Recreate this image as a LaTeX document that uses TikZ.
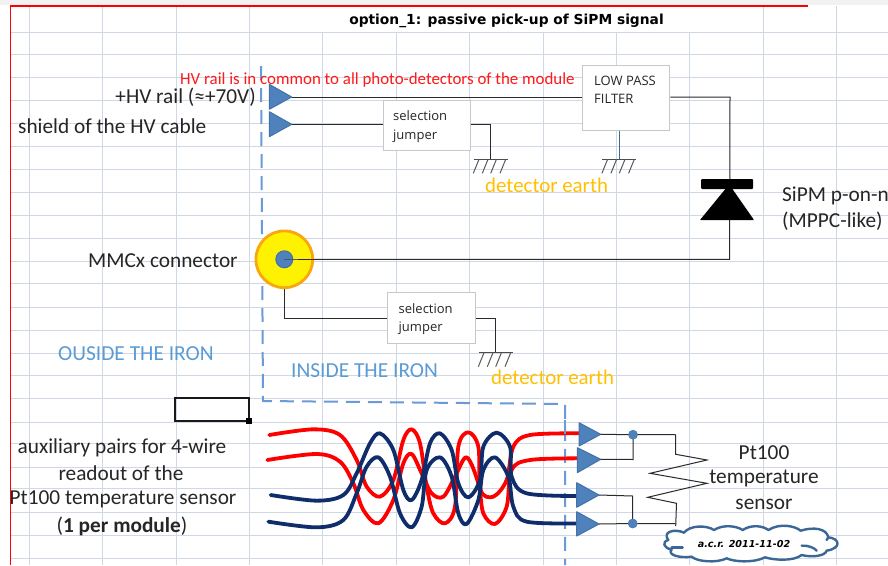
\documentclass[tikz,border=0pt]{standalone}
\usepackage{fontspec}
\setmainfont{Carlito}
\newfontfamily\uifont{Open Sans}
\newfontfamily\titlefont{DejaVu Sans}
\usetikzlibrary{calc}
\definecolor{gridc}{HTML}{D0D7E5}
\definecolor{tribl}{HTML}{4F81BD}
\definecolor{triedge}{HTML}{4272A8}
\definecolor{dashbl}{HTML}{6A9BD8}
\definecolor{labbl}{HTML}{5B9BD5}
\definecolor{gold}{HTML}{FFC000}
\definecolor{navy}{HTML}{0F2D6B}
\definecolor{redw}{HTML}{FF0000}
\definecolor{boxe}{HTML}{C8C8C8}
\definecolor{wirec}{HTML}{2A2A2A}
\definecolor{ringc}{HTML}{F9A60F}
\tikzset{
  gridline/.style={gridc,line width=1pt},
  wire/.style={wirec,line width=1pt},
  stemb/.style={tribl!80!black,line width=1.1pt},
  tri/.style={fill=tribl,draw=triedge,line width=1pt,line join=round},
  boxn/.style={draw=boxe,fill=white,line width=1pt,inner sep=0pt},
  boxt/.style={font=\uifont\fontsize{13pt}{18.3pt}\selectfont,align=left,anchor=west,inner sep=0pt,text=black!85},
  big/.style={font=\fontsize{21.3pt}{24pt}\selectfont,text=black!85,inner sep=0pt},
  gold20/.style={font=\fontsize{20.9pt}{24pt}\selectfont,text=gold,inner sep=0pt,anchor=west},
  iron/.style={font=\fontsize{21.4pt}{24pt}\selectfont,text=labbl,inner sep=0pt,anchor=west},
  hatch/.style={black!65,line width=1pt},
  pairred/.style={redw,line width=3.8pt,line cap=round,line join=round},
  pairnavy/.style={navy,line width=3.8pt,line cap=round,line join=round},
  bound/.style={dashbl,line width=2pt,dash pattern=on 14pt off 8pt},
}
\newcommand{\earthsym}[2]{%
  \draw[black!70,line width=1.2pt] (#1-17,#2) -- (#1+17,#2);
  \foreach \dx in {-11.7,-2.7,5.7,15}{\draw[hatch] (#1+\dx,#2) -- ++(-5.7,14);}
}
\begin{document}
\begin{tikzpicture}[x=1pt,y=-1pt]
\useasboundingbox (0,0) rectangle (888,565);
\fill[white] (0,0) rectangle (888,565);
\fill[black!5] (0,0) rectangle (888,5);
% spreadsheet grid
\foreach \y in {32,54,77,100,123,146,169,192,215,238,261,283,307,330,353,375,398,422,443,467,488,512,535,558}
  \draw[gridline] (10,\y) -- (888,\y);
\foreach \x in {29,102,176,249,763,836}
  \draw[gridline] (\x,6) -- (\x,565);
\foreach \x in {322,396,469,543,616,689}
  \draw[gridline] (\x,32) -- (\x,565);
\draw[redw,line width=1.6pt] (10.5,565) -- (10.5,6) -- (808,6);
% title
\node[font=\titlefont\bfseries\fontsize{13.8pt}{16pt}\selectfont,inner sep=0pt] (title) at (506.5,21) {option\_1: passive pick-up of SiPM signal};
% boundary
\draw[bound] (261,66) -- (263,401) -- (565,404) -- (565,565);
% coordinates of triangle tips
\coordinate (hv) at (291.7,97);
\coordinate (sh) at (291.7,124.3);
\coordinate (t1) at (600.7,434.3);
\coordinate (t2) at (600.7,459.3);
\coordinate (t3) at (599,495);
\coordinate (t4) at (599,524);
% boxes
\node[boxn,minimum width=87pt,minimum height=50pt] (jump1) at (426.5,125.7) {};
\node[boxn,minimum width=87.3pt,minimum height=65pt] (lpf) at (626.3,97.5) {};
\node[boxn,minimum width=88pt,minimum height=50.3pt] (jump2) at (431,318) {};
\node[boxt] (jump1t) at (393,126.5) {selection\\jumper};
\node[boxt] (lpft) at (594,90) {LOW PASS\\FILTER};
\node[boxt] (jump2t) at (398.5,319) {selection\\jumper};
% connector and diode
\coordinate (mm) at (284.3,259.3);
\coordinate (tr) at (730,97);
\coordinate (br) at (729.5,259.3);
\coordinate (g1) at (490.7,159.3);
\coordinate (g2) at (619.3,159.3);
\coordinate (g3) at (495.7,352.7);
\coordinate (lk) at (284.3,318.5);
\draw[wire] (hv) -- (lpf.west |- hv);
\draw[wire] (lpf.east |- hv) -- (tr) -- (br) -- (mm);
\draw[wire] (sh) -- (jump1.west |- sh);
\draw[wire] (jump1.east |- sh) -| (g1);
\draw[stemb] (lpf.south -| g2) -- (g2);
\draw[wire] (mm) -- (lk) -- (jump2.west |- lk);
\draw[wire] (jump2.east |- lk) -| (g3);
\earthsym{490.7}{159.3}
\earthsym{619.3}{159.3}
\earthsym{495.7}{352.7}
% diode
\fill[black,rounded corners=1pt] (701,179) rectangle (753,189);
\fill[black,rounded corners=0.5pt] (727,187) -- (731,187) -- (754,220) -- (700,220) -- cycle;
% MMCx
\draw[fill=yellow,draw=ringc,line width=2.8pt] (mm) circle (28.4);
\draw[wire] (mm) -- (br);
\draw[fill=tribl,draw=triedge,line width=1pt] (mm) circle (8.5);
\draw[wirec!80,line width=1pt] (mm) -- ++(14,0);
% top triangles
\draw[tri] (269.3,84.3) -- (269.3,109.3) -- (hv) -- cycle;
\draw[tri] (269.3,111.7) -- (269.3,136.7) -- (sh) -- cycle;
% selected cell
\draw[black!90,line width=2.8pt] (175,398) rectangle (249,421);
\fill[black] (246.3,418.3) rectangle (251.7,423.7);
% twisted pair
\begin{scope}[shift={(150,380)},x=0.33333pt,y=-0.33333pt]
\draw[pairred] plot[smooth,tension=0.55] coordinates {(358,165) (490,148) (570,165) (620,240) (650,320) (690,350) (730,300) (760,180) (785,148) (810,190) (830,320) (850,400) (885,430) (915,380) (925,200) (955,157) (985,200) (992,330) (1030,350) (1070,300) (1090,200) (1140,165) (1290,160)};
\draw[pairred] plot[smooth,tension=0.55] coordinates {(352,240) (500,222) (570,245) (610,310) (640,390) (685,430) (730,360) (760,250) (785,222) (815,280) (845,340) (880,350) (915,290) (950,232) (985,310) (1000,400) (1035,432) (1070,380) (1085,270) (1140,240) (1290,235)};
\draw[pairnavy] plot[smooth,tension=0.55] coordinates {(362,345) (500,362) (580,345) (620,280) (660,190) (690,160) (730,210) (760,330) (785,360) (815,300) (840,190) (870,160) (905,210) (925,310) (955,352) (990,300) (1000,200) (1040,158) (1080,200) (1085,290) (1130,340) (1290,348)};
\draw[pairnavy] plot[smooth,tension=0.55] coordinates {(355,425) (500,442) (580,420) (620,340) (650,260) (685,232) (720,290) (750,400) (785,442) (815,380) (830,270) (870,232) (905,290) (925,400) (950,432) (985,360) (1000,270) (1035,232) (1075,290) (1090,380) (1130,425) (1290,430)};
\end{scope}
\draw[dashbl,line width=2pt] (565,420) -- (565,434);
% right triangles
\draw[tri] (579,422.7) -- (579,446) -- (t1) -- cycle;
\draw[tri] (577.3,447.7) -- (577.3,472.7) -- (t2) -- cycle;
\draw[tri] (576.7,482.7) -- (576.7,507.3) -- (t3) -- cycle;
\draw[tri] (576.7,511.7) -- (576.7,536) -- (t4) -- cycle;
% Pt100 network
\coordinate (d1) at (633,434.7);
\coordinate (d2) at (632.7,523.5);
\coordinate (r1) at (675.7,434.7);
\coordinate (r2) at (675.7,526);
\draw[wire] (t1) -- (d1) -- (r1);
\draw[wire] (t2) -- (633,459.5) -- (d1);
\draw[wire] (t3) -- (632.7,496) -- (d2);
\draw[wire] (t4) -- (d2) -- (675.7,523.5);
\draw[wire,line join=miter] (r1) -- (675.7,454.3) -- (707,460) -- (650,473.3) -- (707,483.3) -- (647.7,497.3) -- (676.5,503.3) -- (r2);
\fill[tribl,draw=triedge] (d1) circle (4.6);
\fill[tribl,draw=triedge] (d2) circle (4.6);
% cloud
\begin{scope}[shift={(560,400)},x=0.33333pt,y=-0.33333pt]
\draw[fill=white,draw=triedge!90!black,line width=2.4pt,line join=round]
 (325,420) .. controls (305,395) and (345,385) .. (372,398)
 .. controls (390,375) and (440,375) .. (462,390)
 .. controls (490,372) and (530,378) .. (548,390)
 .. controls (575,372) and (610,378) .. (625,390)
 .. controls (660,368) and (705,378) .. (722,392)
 .. controls (760,380) and (800,385) .. (805,412)
 .. controls (840,415) and (845,445) .. (800,452)
 .. controls (795,470) and (750,472) .. (725,465)
 .. controls (700,485) and (640,480) .. (615,472)
 .. controls (580,490) and (520,485) .. (500,475)
 .. controls (470,490) and (410,485) .. (395,470)
 .. controls (360,475) and (320,465) .. (335,448)
 .. controls (310,445) and (305,425) .. (325,420) -- cycle;
\draw[triedge!90!black,line width=2.4pt,line cap=round] (335,442) -- (368,442);
\draw[triedge!90!black,line width=2.4pt,line cap=round] (725,437) .. controls (745,435) and (765,445) .. (770,452);
\draw[triedge!90!black,line width=2.4pt,line cap=round] (800,420) -- (805,412);
\end{scope}
\node[font=\titlefont\fontsize{9.6pt}{12pt}\selectfont\bfseries\itshape,inner sep=0pt] (stamp) at (744,543.5) {a.c.r. 2011-11-02};
% labels
\node[font=\fontsize{16.9pt}{18pt}\selectfont,text=red!90!white,inner sep=0pt,anchor=west] (hvnote) at (180,80) {HV rail is in common to all photo-detectors of the module};
\node[big,anchor=east] (hvl) at (256,97.5) {+HV rail (≈+70V)};
\node[big,anchor=west] (shl) at (18,126.5) {shield of the HV cable};
\node[big,anchor=west] (mml) at (88,260.5) {MMCx connector};
\node[iron] (outl) at (58,353.5) {OUSIDE THE IRON};
\node[iron] (inl) at (291,371) {INSIDE THE IRON};
\node[gold20] (de1) at (485,185.5) {detector earth};
\node[gold20] (de2) at (491,377.5) {detector earth};
\node[big,anchor=west] (sip1) at (782,195.5) {SiPM p-on-n};
\node[big,anchor=west] (sip2) at (782,221.5) {(MPPC-like)};
\node[big] (aux1) at (122,447.5) {auxiliary pairs for 4-wire};
\node[big] (aux2) at (121,473.5) {readout of the};
\node[big] (aux3) at (123,499.5) {Pt100 temperature sensor};
\node[big] (aux4) at (122,526.5) {(\textbf{1 per module})};
\node[big] (pt1) at (764,452.5) {Pt100};
\node[big] (pt2) at (764,478.5) {temperature};
\node[big] (pt3) at (764,504.5) {sensor};
\end{tikzpicture}
\end{document}
